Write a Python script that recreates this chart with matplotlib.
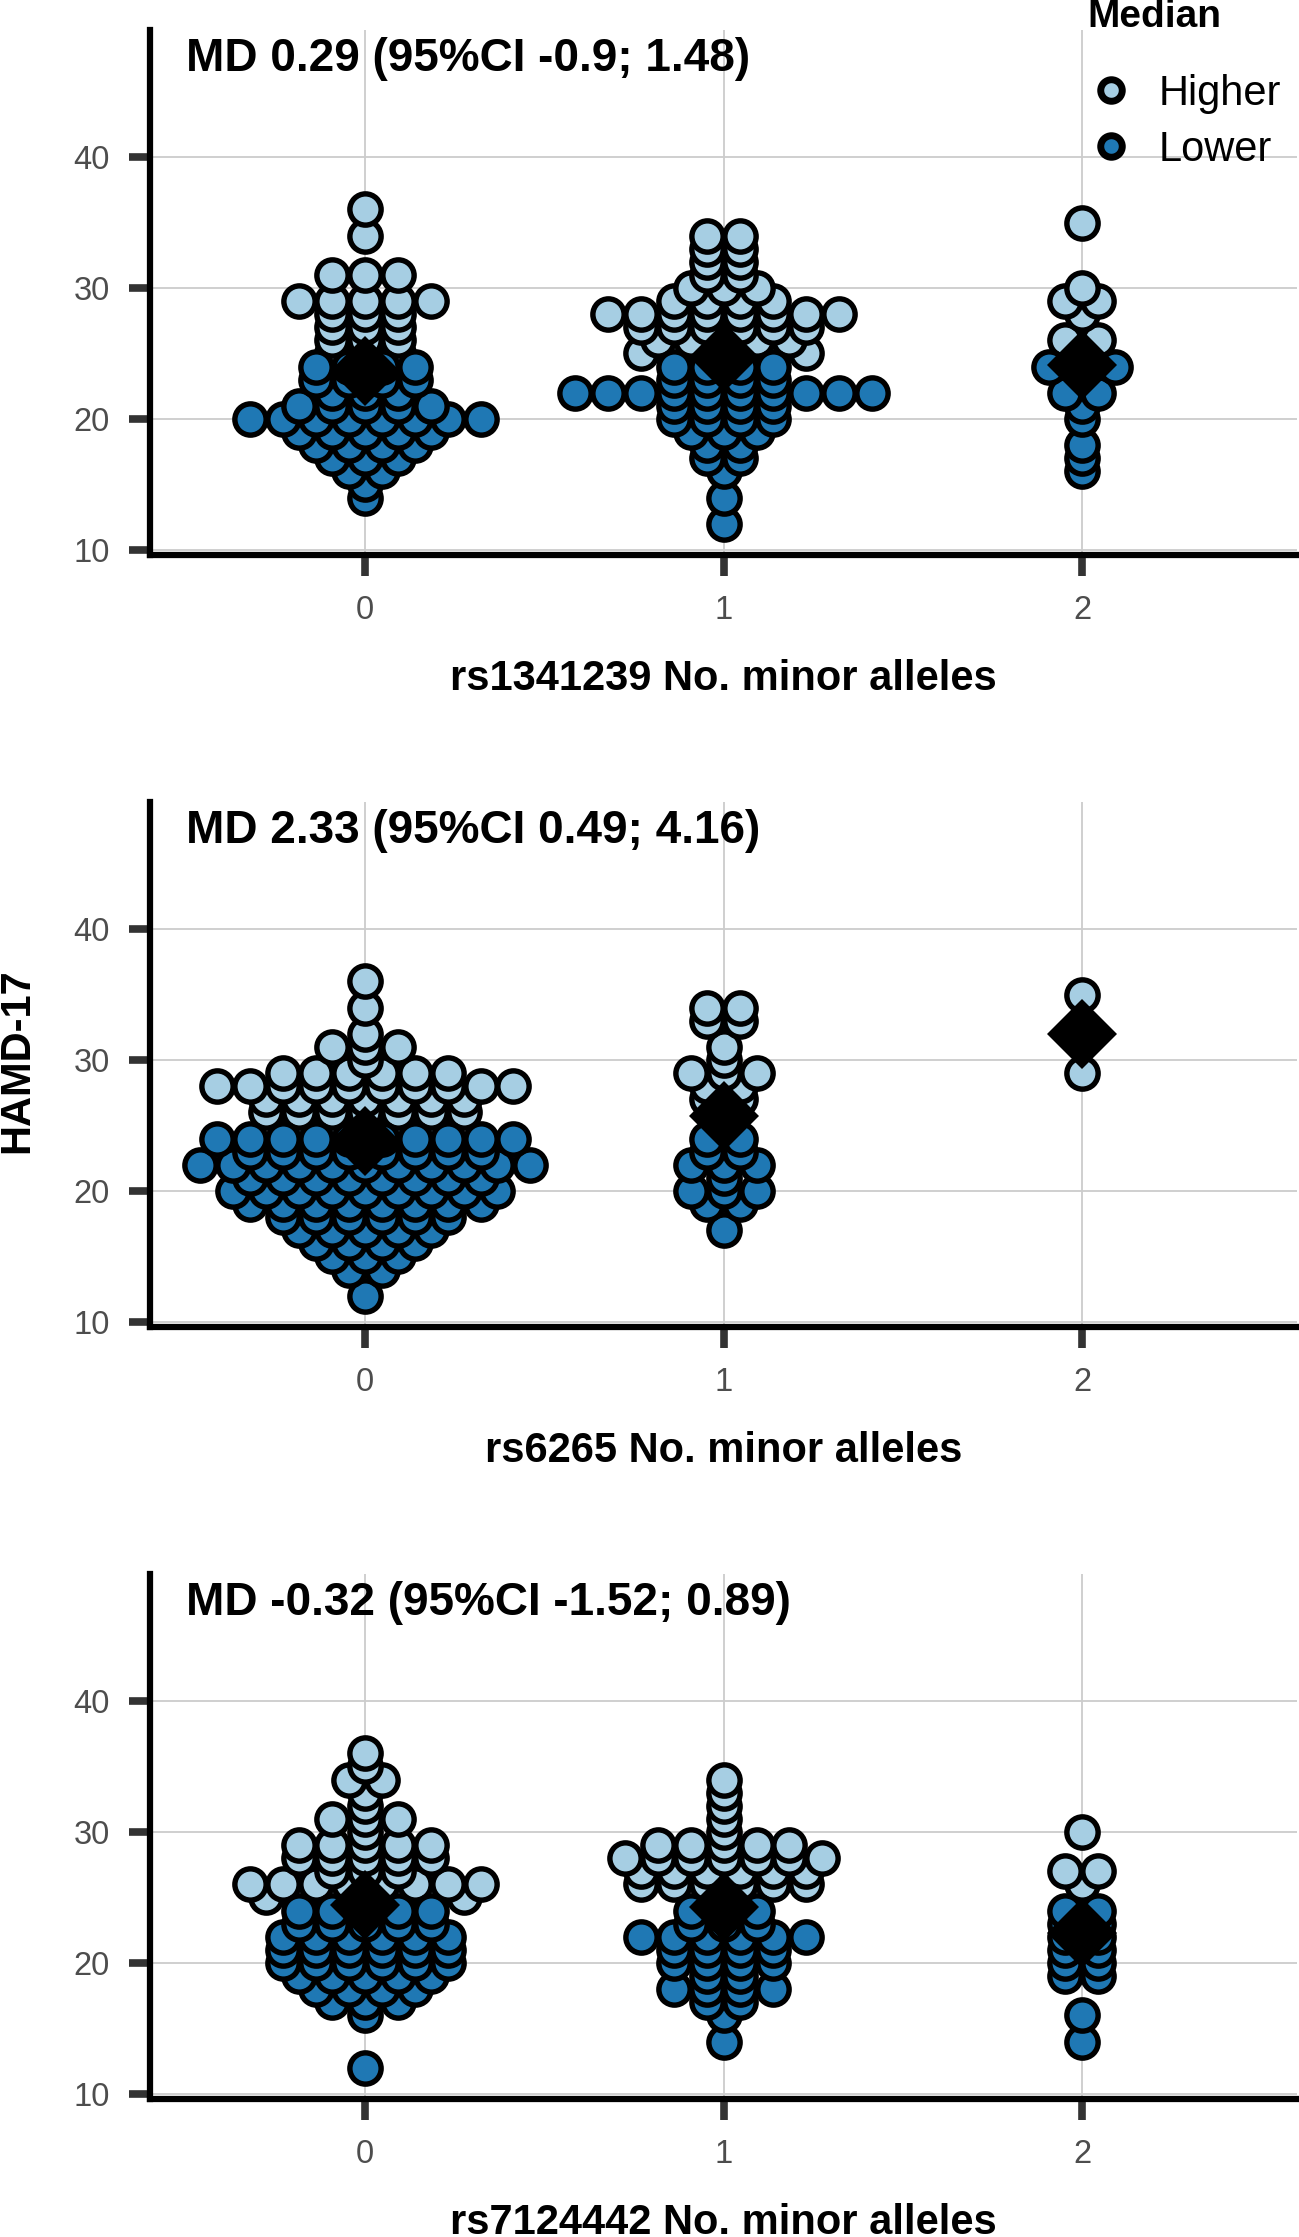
import matplotlib
matplotlib.use("Agg")
import matplotlib.pyplot as plt
from matplotlib.lines import Line2D
import numpy as np

plt.rcParams["font.family"] = ["Liberation Sans", "DejaVu Sans"]

genotypes = [0, 1, 2]
snp_labels = ["rs1341239 No. minor alleles",
              "rs6265 No. minor alleles",
              "rs7124442 No. minor alleles"]
md_labels = ["MD 0.29 (95%CI -0.9; 1.48)",
             "MD 2.33 (95%CI 0.49; 4.16)",
             "MD -0.32 (95%CI -1.52; 0.89)"]

# HAMD-17 score and number of patients with that score, per genotype
rs1341239_g0_scores = [14, 15, 16, 17, 18, 19, 20, 21, 22, 23, 24, 25, 26, 27, 28, 29, 31, 34, 36]
rs1341239_g0_counts = [1, 1, 2, 3, 4, 5, 8, 5, 3, 4, 4, 3, 3, 3, 3, 5, 3, 1, 1]
rs1341239_g1_scores = [12, 14, 16, 17, 18, 19, 20, 21, 22, 23, 24, 25, 26, 27, 28, 29, 30, 31, 32, 33, 34]
rs1341239_g1_counts = [1, 1, 1, 2, 2, 3, 4, 4, 10, 4, 4, 6, 5, 6, 8, 4, 3, 2, 2, 2, 2]
rs1341239_g2_scores = [16, 17, 18, 20, 21, 22, 24, 25, 26, 28, 29, 30, 35]
rs1341239_g2_counts = [1, 1, 1, 1, 1, 2, 3, 1, 2, 1, 2, 1, 1]

rs6265_g0_scores = [12, 14, 15, 16, 17, 18, 19, 20, 21, 22, 23, 24, 25, 26, 27, 28, 29, 30, 31, 32, 34, 36]
rs6265_g0_counts = [1, 2, 3, 4, 5, 6, 8, 9, 8, 11, 8, 10, 5, 7, 7, 10, 6, 1, 3, 1, 1, 1]
rs6265_g1_scores = [17, 19, 20, 21, 22, 23, 24, 25, 26, 27, 28, 29, 30, 31, 33, 34]
rs6265_g1_counts = [1, 2, 3, 1, 3, 2, 2, 1, 1, 2, 2, 3, 1, 1, 2, 2]
rs6265_g2_scores = [29, 35]
rs6265_g2_counts = [1, 1]

rs7124442_g0_scores = [12, 16, 17, 18, 19, 20, 21, 22, 23, 24, 25, 26, 27, 28, 29, 30, 31, 32, 33, 34, 35, 36]
rs7124442_g0_counts = [1, 1, 3, 4, 5, 6, 6, 6, 5, 5, 7, 8, 3, 5, 5, 1, 3, 1, 1, 2, 1, 1]
rs7124442_g1_scores = [14, 16, 17, 18, 19, 20, 21, 22, 23, 24, 25, 26, 27, 28, 29, 30, 31, 32, 33, 34]
rs7124442_g1_counts = [1, 1, 2, 4, 2, 4, 4, 6, 3, 3, 1, 6, 6, 7, 5, 1, 1, 1, 1, 1]
rs7124442_g2_scores = [14, 16, 19, 20, 21, 22, 23, 24, 26, 27, 30]
rs7124442_g2_counts = [1, 1, 2, 2, 2, 2, 2, 2, 1, 2, 1]

# mean HAMD-17 per genotype (black diamonds)
rs1341239_means = [23.7, 24.7, 24.1]
rs6265_means = [23.8, 25.7, 32.0]
rs7124442_means = [24.4, 24.3, 22.3]

median_score = 24  # scores above this are "Higher"

light_blue = "#a6cee3"
dark_blue = "#1f78b4"

panels = [
    ([(rs1341239_g0_scores, rs1341239_g0_counts),
      (rs1341239_g1_scores, rs1341239_g1_counts),
      (rs1341239_g2_scores, rs1341239_g2_counts)], rs1341239_means),
    ([(rs6265_g0_scores, rs6265_g0_counts),
      (rs6265_g1_scores, rs6265_g1_counts),
      (rs6265_g2_scores, rs6265_g2_counts)], rs6265_means),
    ([(rs7124442_g0_scores, rs7124442_g0_counts),
      (rs7124442_g1_scores, rs7124442_g1_counts),
      (rs7124442_g2_scores, rs7124442_g2_counts)], rs7124442_means),
]


def swarm(scores, counts, center, step):
    """Centre the points that share a score side by side in one row."""
    xs, ys = [], []
    for s, n in zip(scores, counts):
        for i in range(n):
            xs.append(center + (i - (n - 1) / 2) * step)
            ys.append(s)
    return np.array(xs), np.array(ys)


def main():
    fig = plt.figure(figsize=(12.99, 22.37), dpi=100)
    bottoms = [0.7521, 0.4070, 0.0619]
    step = 0.092

    for k, (groups, means) in enumerate(panels):
        ax = fig.add_axes([0.1155, bottoms[k], 0.883, 0.2345])
        ax.set_axisbelow(True)
        ax.grid(True, color="#cccccc", linewidth=1.3)

        for g, (scores, counts) in zip(genotypes, groups):
            x, y = swarm(scores, counts, g, step)
            hi = y > median_score
            for mask, col in ((hi, light_blue), (~hi, dark_blue)):
                ax.plot(x[mask], y[mask], "o", ls="none", ms=22.5,
                        mfc=col, mec="black", mew=3.9, zorder=2)

        ax.plot(genotypes, means, "D", ls="none", ms=36, color="black",
                mew=0, zorder=3)

        ax.text(-0.5, 47.5, md_labels[k], fontsize=33, fontweight="bold",
                ha="left", va="center")

        ax.set_xlim(-0.6, 2.6)
        ax.set_ylim(9.65, 49.7)
        ax.set_xticks(genotypes)
        ax.set_yticks([10, 20, 30, 40])
        for side in ("top", "right"):
            ax.spines[side].set_visible(False)
        for side in ("left", "bottom"):
            ax.spines[side].set_linewidth(4.5)
            ax.spines[side].set_color("black")
        ax.tick_params(length=15, width=5.5, color="#333333",
                       labelsize=23.5, labelcolor="#4d4d4d", pad=14)
        ax.set_xlabel(snp_labels[k], fontsize=30, fontweight="bold",
                      labelpad=24)

    fig.text(0.0135, 0.526, "HAMD-17", rotation=90, fontsize=30,
             fontweight="bold", ha="center", va="center")

    # legend: title drawn on its own so it can sit at the very top
    fig.text(1087 / 1299, 1 - 27 / 2237, "Median", fontsize=28,
             fontweight="bold", ha="left", va="baseline")
    handles = [
        Line2D([], [], marker="o", ls="none", ms=15.5, mfc=light_blue,
               mec="black", mew=5, label="Higher"),
        Line2D([], [], marker="o", ls="none", ms=15.5, mfc=dark_blue,
               mec="black", mew=5, label="Lower"),
    ]
    fig.legend(handles=handles, loc="center left",
               bbox_to_anchor=(1082 / 1299, 1 - 122 / 2237), frameon=False,
               fontsize=30, handlelength=1.4, handletextpad=0.45,
               labelspacing=0.38, borderpad=0, borderaxespad=0)

    fig.savefig("out.png", dpi=100)


if __name__ == "__main__":
    main()
